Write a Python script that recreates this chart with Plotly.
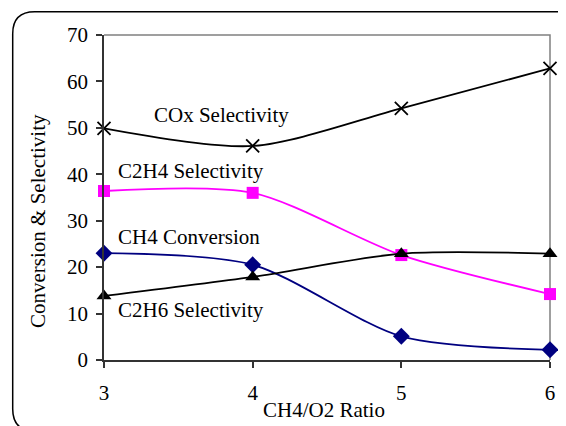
import plotly.graph_objects as go

ratio = [3, 4, 5, 6]
ch4_conversion = [23.0, 20.5, 5.1, 2.2]
c2h6_selectivity = [13.8, 17.9, 22.9, 22.9]
c2h4_selectivity = [36.4, 36.0, 22.6, 14.2]
cox_selectivity = [49.9, 46.1, 54.2, 62.8]

OFF = 8  # page body margin
W, H = 566 - OFF, 426 - OFF
L, R, T, B = 104 - OFF, 16, 35 - OFF, 66
PW, PH = W - L - R, H - T - B

def px(x):
    return (x - OFF - L) / PW

def py(y):
    return (OFF + H - B - y) / PH

FONT = "Liberation Serif"
FS = 21

fig = go.Figure()

fig.add_trace(go.Scatter(
    x=ratio, y=cox_selectivity, mode="lines+markers",
    line=dict(color="black", width=1.8, shape="spline", smoothing=0.8),
    marker=dict(symbol="x-thin-open", size=13, line=dict(color="black", width=1.8), color="black"),
    cliponaxis=False, name="COx Selectivity"))
fig.add_trace(go.Scatter(
    x=ratio, y=c2h4_selectivity, mode="lines+markers",
    line=dict(color="#FF00FF", width=1.8, shape="spline", smoothing=0.8),
    marker=dict(symbol="square", size=12, color="#FF00FF"),
    cliponaxis=False, name="C2H4 Selectivity"))
fig.add_trace(go.Scatter(
    x=ratio, y=ch4_conversion, mode="lines+markers",
    line=dict(color="#000080", width=1.8, shape="spline", smoothing=0.8),
    marker=dict(symbol="diamond", size=13, color="#000080"),
    cliponaxis=False, name="CH4 Conversion"))
fig.add_trace(go.Scatter(
    x=ratio, y=c2h6_selectivity, mode="lines+markers",
    line=dict(color="black", width=1.8, shape="spline", smoothing=0.8),
    marker=dict(symbol="triangle-up", size=13, color="black"),
    cliponaxis=False, name="C2H6 Selectivity"))

labels = [
    ("COx Selectivity", 3.32, 52.7),
    ("C2H4 Selectivity", 3.08, 40.7),
    ("CH4 Conversion", 3.08, 26.5),
    ("C2H6 Selectivity", 3.08, 10.8),
]
for txt, lx, ly in labels:
    fig.add_annotation(x=lx, y=ly, xref="x", yref="y", text=txt, showarrow=False,
                       xanchor="left", yanchor="middle",
                       font=dict(family=FONT, size=FS, color="black"))

fig.add_annotation(x=px(38), y=py(221), xref="paper", yref="paper",
                   text="Conversion & Selectivity", textangle=-90, showarrow=False,
                   xanchor="center", yanchor="middle",
                   font=dict(family=FONT, size=FS, color="black"))
fig.add_annotation(x=px(324), y=py(410), xref="paper", yref="paper",
                   text="CH4/O2 Ratio", showarrow=False,
                   xanchor="center", yanchor="middle",
                   font=dict(family=FONT, size=FS, color="black"))

# plot-area border (top and right), grey
fig.add_shape(type="path", xref="paper", yref="paper", layer="below",
              path="M 0 1 L 1 1 L 1 0", line=dict(color="#808080", width=1.5))

# rounded chart border
x0, y0, x1, y1, r = 12.7, 11.7, 579, 431, 22
path = (f"M {px(x0+r)} {py(y0)} L {px(x1-r)} {py(y0)} "
        f"Q {px(x1)} {py(y0)} {px(x1)} {py(y0+r)} "
        f"L {px(x1)} {py(y1-r)} Q {px(x1)} {py(y1)} {px(x1-r)} {py(y1)} "
        f"L {px(x0+r)} {py(y1)} Q {px(x0)} {py(y1)} {px(x0)} {py(y1-r)} "
        f"L {px(x0)} {py(y0+r)} Q {px(x0)} {py(y0)} {px(x0+r)} {py(y0)} Z")
fig.add_shape(type="path", xref="paper", yref="paper", path=path,
              line=dict(color="black", width=1.5))

fig.update_layout(
    width=W, height=H,
    margin=dict(l=L, r=R, t=T, b=B),
    paper_bgcolor="white", plot_bgcolor="white",
    showlegend=False,
    font=dict(family=FONT, size=FS, color="black"),
    xaxis=dict(range=[3, 6], tickvals=ratio, ticks="outside", ticklen=6, tickwidth=1.5,
               tickcolor="#333333", showgrid=False, zeroline=False,
               showline=True, linecolor="#333333", linewidth=1.8,
               ticklabelstandoff=7,
               tickfont=dict(family=FONT, size=FS, color="black")),
    yaxis=dict(range=[0, 70], dtick=10, ticks="outside", ticklen=6, tickwidth=1.5,
               tickcolor="#333333", showgrid=False, zeroline=False,
               showline=True, linecolor="#333333", linewidth=1.8,
               ticklabelstandoff=4,
               tickfont=dict(family=FONT, size=FS, color="black")),
)

fig.write_html("out.html")
